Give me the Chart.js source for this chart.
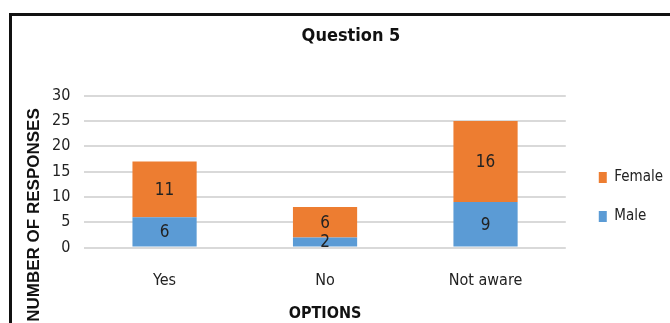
<!DOCTYPE html>
<html><head><meta charset="utf-8">
<script src="https://cdn.jsdelivr.net/npm/chart.js@4.4.0/dist/chart.umd.min.js"></script>
<style>
html,body{margin:0;padding:0;background:#fff;overflow:hidden;}
#frame{position:absolute;left:9px;top:13px;width:700px;height:400px;border:3px solid #111;box-sizing:border-box;}
#wrap{position:absolute;left:0;top:0;width:670px;height:323px;}
</style></head>
<body>
<div id="frame"></div>
<div id="wrap"><canvas id="c" width="670" height="323"></canvas></div>
<script>
const categories = ["Yes", "No", "Not aware"];
const maleValues = [6, 2, 9];
const femaleValues = [11, 6, 16];
const yTicks = [0, 5, 10, 15, 20, 25, 30];
const chartTitle = "Question 5";
const xTitle = "OPTIONS";
const yTitle = "NUMBER OF RESPONSES";

const NARROW = "'Liberation Sans Narrow', 'DejaVu Sans Condensed', 'Arial Narrow', sans-serif";

const valueLabels = {
  id: 'valueLabels',
  afterDatasetsDraw(chart) {
    const ctx = chart.ctx;
    ctx.save();
    ctx.font = "17px " + NARROW;
    ctx.fillStyle = "#222";
    ctx.textAlign = "center";
    ctx.textBaseline = "middle";
    chart.data.datasets.forEach((ds, i) => {
      const meta = chart.getDatasetMeta(i);
      meta.data.forEach((el, j) => {
        const v = ds.data[j];
        ctx.fillText(String(v), el.x, (el.y + el.base) / 2 + 1);
      });
    });
    ctx.restore();
  }
};

const yTitlePlugin = {
  id: 'yTitlePlugin',
  afterDraw(chart) {
    const ctx = chart.ctx;
    ctx.save();
    ctx.translate(34, 215);
    ctx.rotate(-Math.PI / 2);
    ctx.font = "bold 17px 'Liberation Sans', Arial, sans-serif";
    ctx.fillStyle = "#111";
    ctx.textAlign = "center";
    ctx.textBaseline = "middle";
    ctx.fillText(yTitle, 0, 0);
    ctx.restore();
  }
};

const legendShift = {
  id: 'legendShift',
  afterLayout(chart) {
    const lg = chart.legend;
    if (!lg) return;
    lg.left += 9; lg.right += 9;
    lg.top -= 75; lg.bottom -= 75;
  }
};

new Chart(document.getElementById('c'), {
  type: 'bar',
  data: {
    labels: categories,
    datasets: [
      { label: 'Male', data: maleValues, backgroundColor: '#5b9bd5', barPercentage: 0.4, categoryPercentage: 1.0 },
      { label: 'Female', data: femaleValues, backgroundColor: '#ed7d31', barPercentage: 0.4, categoryPercentage: 1.0 }
    ]
  },
  options: {
    responsive: false,
    animation: false,
    layout: { padding: { left: 38, right: 6, top: 0, bottom: 0 } },
    plugins: {
      title: {
        display: true, text: chartTitle, color: '#111',
        font: { family: NARROW, size: 18, weight: 'bold' },
        padding: { top: 26, bottom: 48 }
      },
      legend: {
        position: 'right', reverse: true, align: 'end',
        labels: {
          boxWidth: 8, boxHeight: 11, padding: 24, color: '#222',
          font: { family: NARROW, size: 15 }
        }
      },
      tooltip: { enabled: false }
    },
    scales: {
      x: {
        stacked: true,
        grid: { display: false, drawTicks: false },
        border: { display: false },
        ticks: { color: '#222', font: { family: NARROW, size: 16 }, padding: 24 },
        title: { display: true, text: xTitle, color: '#111', font: { family: NARROW, size: 16, weight: 'bold' }, padding: { top: -11, bottom: 0 } }
      },
      y: {
        stacked: true, min: 0, max: 30,
        afterBuildTicks(scale) { scale.ticks = yTicks.map(v => ({ value: v })); },
        grid: { color: '#d9d9d9', lineWidth: 2, drawTicks: false },
        border: { display: false },
        ticks: { color: '#222', font: { family: NARROW, size: 16 }, padding: 14 }
      }
    }
  },
  plugins: [valueLabels, yTitlePlugin, legendShift]
});
</script>
</body></html>
